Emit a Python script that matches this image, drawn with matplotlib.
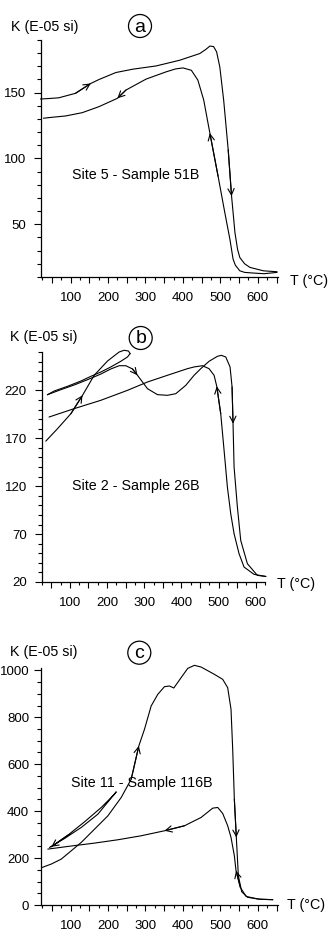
import matplotlib
matplotlib.use("Agg")
import matplotlib.pyplot as plt
from matplotlib.ticker import MultipleLocator, FuncFormatter
from matplotlib.patches import Circle

plt.rcParams['font.family'] = ['Liberation Sans', 'DejaVu Sans']

# ---- panel a : Site 5 - Sample 51B  (T in degC, K in E-05 SI)
a_heat_T = [20, 40, 68.5, 113, 154, 176, 221, 265.6, 328.5, 391, 445, 462, 472, 482, 490,
            498.6, 509, 521, 530, 539, 546, 552, 565, 579, 615, 651]
a_heat_K = [145.2, 145.5, 146.1, 149.5, 157, 160, 165.3, 167.8, 170.3, 174.6, 179.7, 183,
            185.4, 185, 181, 169.5, 144, 106.6, 71.4, 43.7, 31, 24.8, 20, 17.3, 14.7, 14]
a_heat_arrows = [4, 18]
a_cool_T = [651, 617, 588, 565, 552, 540, 534, 525.5, 512, 494, 472, 455.6, 440, 422.6, 400,
            380, 355, 301.6, 248, 225, 176, 131, 86.6, 50.5, 28]
a_cool_K = [13.5, 12.5, 13, 13.5, 14.7, 19, 23.6, 38.7, 58.8, 86.5, 119.3, 144.4, 159.5, 167,
            168.8, 168, 165.8, 160.3, 152, 145.7, 139.4, 134.8, 132.3, 131.3, 130.6]
a_cool_arrows = [10, 19]

# ---- panel b : Site 2 - Sample 26B
b_heat1_T = [35.5, 66.8, 102.7, 134, 165.4, 201.3, 232.6, 246, 257.7, 262]
b_heat1_K = [167.1, 180, 195.6, 214.8, 235.7, 250.6, 260, 261.8, 261, 258.3]
b_heat1_arrows = [3]
b_cool1_T = [262, 255, 237, 210.2, 183.3, 156.5, 129.6, 93.7, 57.9, 40]
b_cool1_K = [258.3, 254.8, 250.3, 244.4, 239.1, 234.6, 229.7, 224.2, 219.3, 215.5]
b_heat2_T = [40, 75.8, 111.6, 147.5, 183.3, 210.2, 232.6, 250.5, 268.5, 281.9, 308.8, 335.7,
             362.5, 385, 411.8, 434.2, 452.2, 474.5, 497, 507.7, 519.4, 531, 536.4, 539,
             541.8, 550.7, 559.7, 577.6, 604.5, 626.9]
b_heat2_K = [215.5, 220.7, 225.6, 231.1, 237, 242.3, 245.7, 245.7, 242.3, 235.7, 221.7, 215.5,
             214.8, 216.5, 225.2, 235.7, 242.6, 250.3, 255.5, 256.5, 254.8, 244.4, 223.5, 185.2,
             140, 98.2, 63.4, 39.1, 26.9, 25.8]
b_heat2_arrows = [9, 23]
b_cool2_T = [626.9, 595.5, 568.6, 555.2, 541.8, 532.8, 523.8, 514.9, 505.9, 495.2, 488,
             474.5, 456.6, 434.2, 416.3, 362.5, 308.8, 255, 183.3, 111.6, 44.4]
b_cool2_K = [25.8, 28, 35.6, 49.5, 70.4, 91.3, 119.1, 157.4, 195.6, 224.2, 235.7,
             242.6, 245.7, 244.4, 242.6, 235.7, 228.7, 220, 209.6, 200.9, 192.2]
b_cool2_arrows = [9]

# ---- panel c : Site 11 - Sample 116B
c_heat_T = [24.5, 48.5, 75.2, 101.9, 128.5, 164.1, 199.7, 235.2, 261.9, 282.3, 297.4, 315.2,
            333, 350.8, 364.1, 375.7, 395.2, 413, 430.8, 448.5, 484.1, 506.3, 519.6, 528.5,
            533, 537.4, 542.7, 548.1, 557, 573, 608.5, 639.6]
c_heat_K = [160.3, 174.5, 195.7, 231.2, 266.7, 323.4, 380.1, 458.2, 536.2, 678, 748.9, 848.2,
            897.9, 930.5, 933.3, 924.8, 968.8, 1008.5, 1021.3, 1014.2, 983, 961.7, 926.2, 834,
            663.8, 451, 288, 124.8, 56.7, 32.6, 24.1, 22.7]
c_heat_arrows = [9, 26]
c_cool_T = [639.6, 599.6, 568.5, 553.4, 541.9, 537.4, 528.5, 519.6, 506.3, 493, 479.7, 448.5,
            404.1, 350.8, 288.5, 226.3, 164.1, 93, 39.7]
c_cool_K = [22.7, 25.5, 36.9, 75.2, 146.1, 209.9, 288, 337.6, 390.1, 415.6, 412.8, 373,
            337.6, 316.3, 295, 278, 263.8, 249.6, 238.3]
c_cool_arrows = [4, 13]
c_loop_T = [44.1, 84.1, 128.5, 173, 221.9, 217.4, 181.9, 137.4, 93, 48.5]
c_loop_K = [245.4, 283.7, 330.5, 387.2, 482.3, 472.3, 415.6, 354.6, 297.9, 248.2]
c_loop_arrows = [9]

W, H = 330, 933
fig = plt.figure(figsize=(W / 100, H / 100), dpi=100)


def make_axes(left, right, top, bottom):
    return fig.add_axes([left / W, 1 - bottom / H, (right - left) / W, (bottom - top) / H])


def style(ax, xlim, ylim, ymaj, ymin, ypad=6):
    ax.set_xlim(*xlim)
    ax.set_ylim(*ylim)
    for s in ['top', 'right']:
        ax.spines[s].set_visible(False)
    for s in ['left', 'bottom']:
        ax.spines[s].set_linewidth(0.9)
    ax.xaxis.set_major_locator(MultipleLocator(50))
    ax.xaxis.set_minor_locator(MultipleLocator(25))
    ax.xaxis.set_major_formatter(FuncFormatter(lambda v, p: '%d' % v if v % 100 == 0 else ''))
    ax.yaxis.set_major_locator(MultipleLocator(ymaj))
    ax.yaxis.set_minor_locator(MultipleLocator(ymin))
    ax.tick_params(axis='x', which='major', length=4, width=0.8, pad=7, labelsize=9.5)
    ax.tick_params(axis='x', which='minor', length=2.5, width=0.8)
    ax.tick_params(axis='y', which='major', length=5, width=0.8, pad=ypad, labelsize=9.5)
    ax.tick_params(axis='y', which='minor', length=3, width=0.8)


def draw(ax, T, K, arrows):
    ax.plot(T, K, color='k', lw=0.8, clip_on=False, solid_joinstyle='round')
    for i in arrows:
        ax.annotate('', xy=(T[i], K[i]), xytext=(T[i - 1], K[i - 1]),
                    arrowprops=dict(arrowstyle='->,head_length=0.5,head_width=0.25',
                                    color='k', lw=0.8, shrinkA=0, shrinkB=0,
                                    mutation_scale=9))


def panel_text(letter, cx, cy, kx, ky, tx, ty):
    fig.add_artist(Circle((cx / 100, (H - cy) / 100), 0.115, transform=fig.dpi_scale_trans,
                          fill=False, ec='k', lw=0.9))
    fig.text(cx / W, 1 - (cy + 1) / H, letter, ha='center', va='center', fontsize=14)
    fig.text(kx / W, 1 - ky / H, 'K (E-05 si)', ha='left', va='center', fontsize=10.3)
    fig.text(tx / W, 1 - ty / H, 'T (°C)', ha='left', va='center', fontsize=10.3)


# panel a
ax = make_axes(41, 278, 40, 277)
style(ax, (21, 654), (10, 190), 50, 10)
ax.set_yticks([50, 100, 150])
draw(ax, a_heat_T, a_heat_K, a_heat_arrows)
draw(ax, a_cool_T, a_cool_K, a_cool_arrows)
fig.text(136 / W, 1 - 175 / H, 'Site 5 - Sample 51B', ha='center', va='center', fontsize=10.3)
panel_text('a', 140, 26, 11, 27, 290, 281)

# panel b
ax = make_axes(42, 265, 352, 582)
style(ax, (25, 625), (20, 260), 50, 10)
ax.set_yticks([20, 70, 120, 170, 220])
draw(ax, b_heat1_T, b_heat1_K, b_heat1_arrows)
draw(ax, b_cool1_T, b_cool1_K, [])
draw(ax, b_heat2_T, b_heat2_K, b_heat2_arrows)
draw(ax, b_cool2_T, b_cool2_K, b_cool2_arrows)
fig.text(136 / W, 1 - 486 / H, 'Site 2 - Sample 26B', ha='center', va='center', fontsize=10.3)
panel_text('b', 140.7, 338, 10, 337, 277, 584)

# panel c
ax = make_axes(41, 278, 668, 905)
style(ax, (21, 654), (0, 1010), 200, 50, ypad=3.5)
ax.set_yticks([0, 200, 400, 600, 800, 1000])
draw(ax, c_heat_T, c_heat_K, c_heat_arrows)
draw(ax, c_cool_T, c_cool_K, c_cool_arrows)
draw(ax, c_loop_T, c_loop_K, c_loop_arrows)
fig.text(141.5 / W, 1 - 783 / H, 'Site 11 - Sample 116B', ha='center', va='center', fontsize=10.3)
panel_text('c', 139.3, 652.7, 10, 652, 287, 905)

fig.savefig('out.png', dpi=100)
